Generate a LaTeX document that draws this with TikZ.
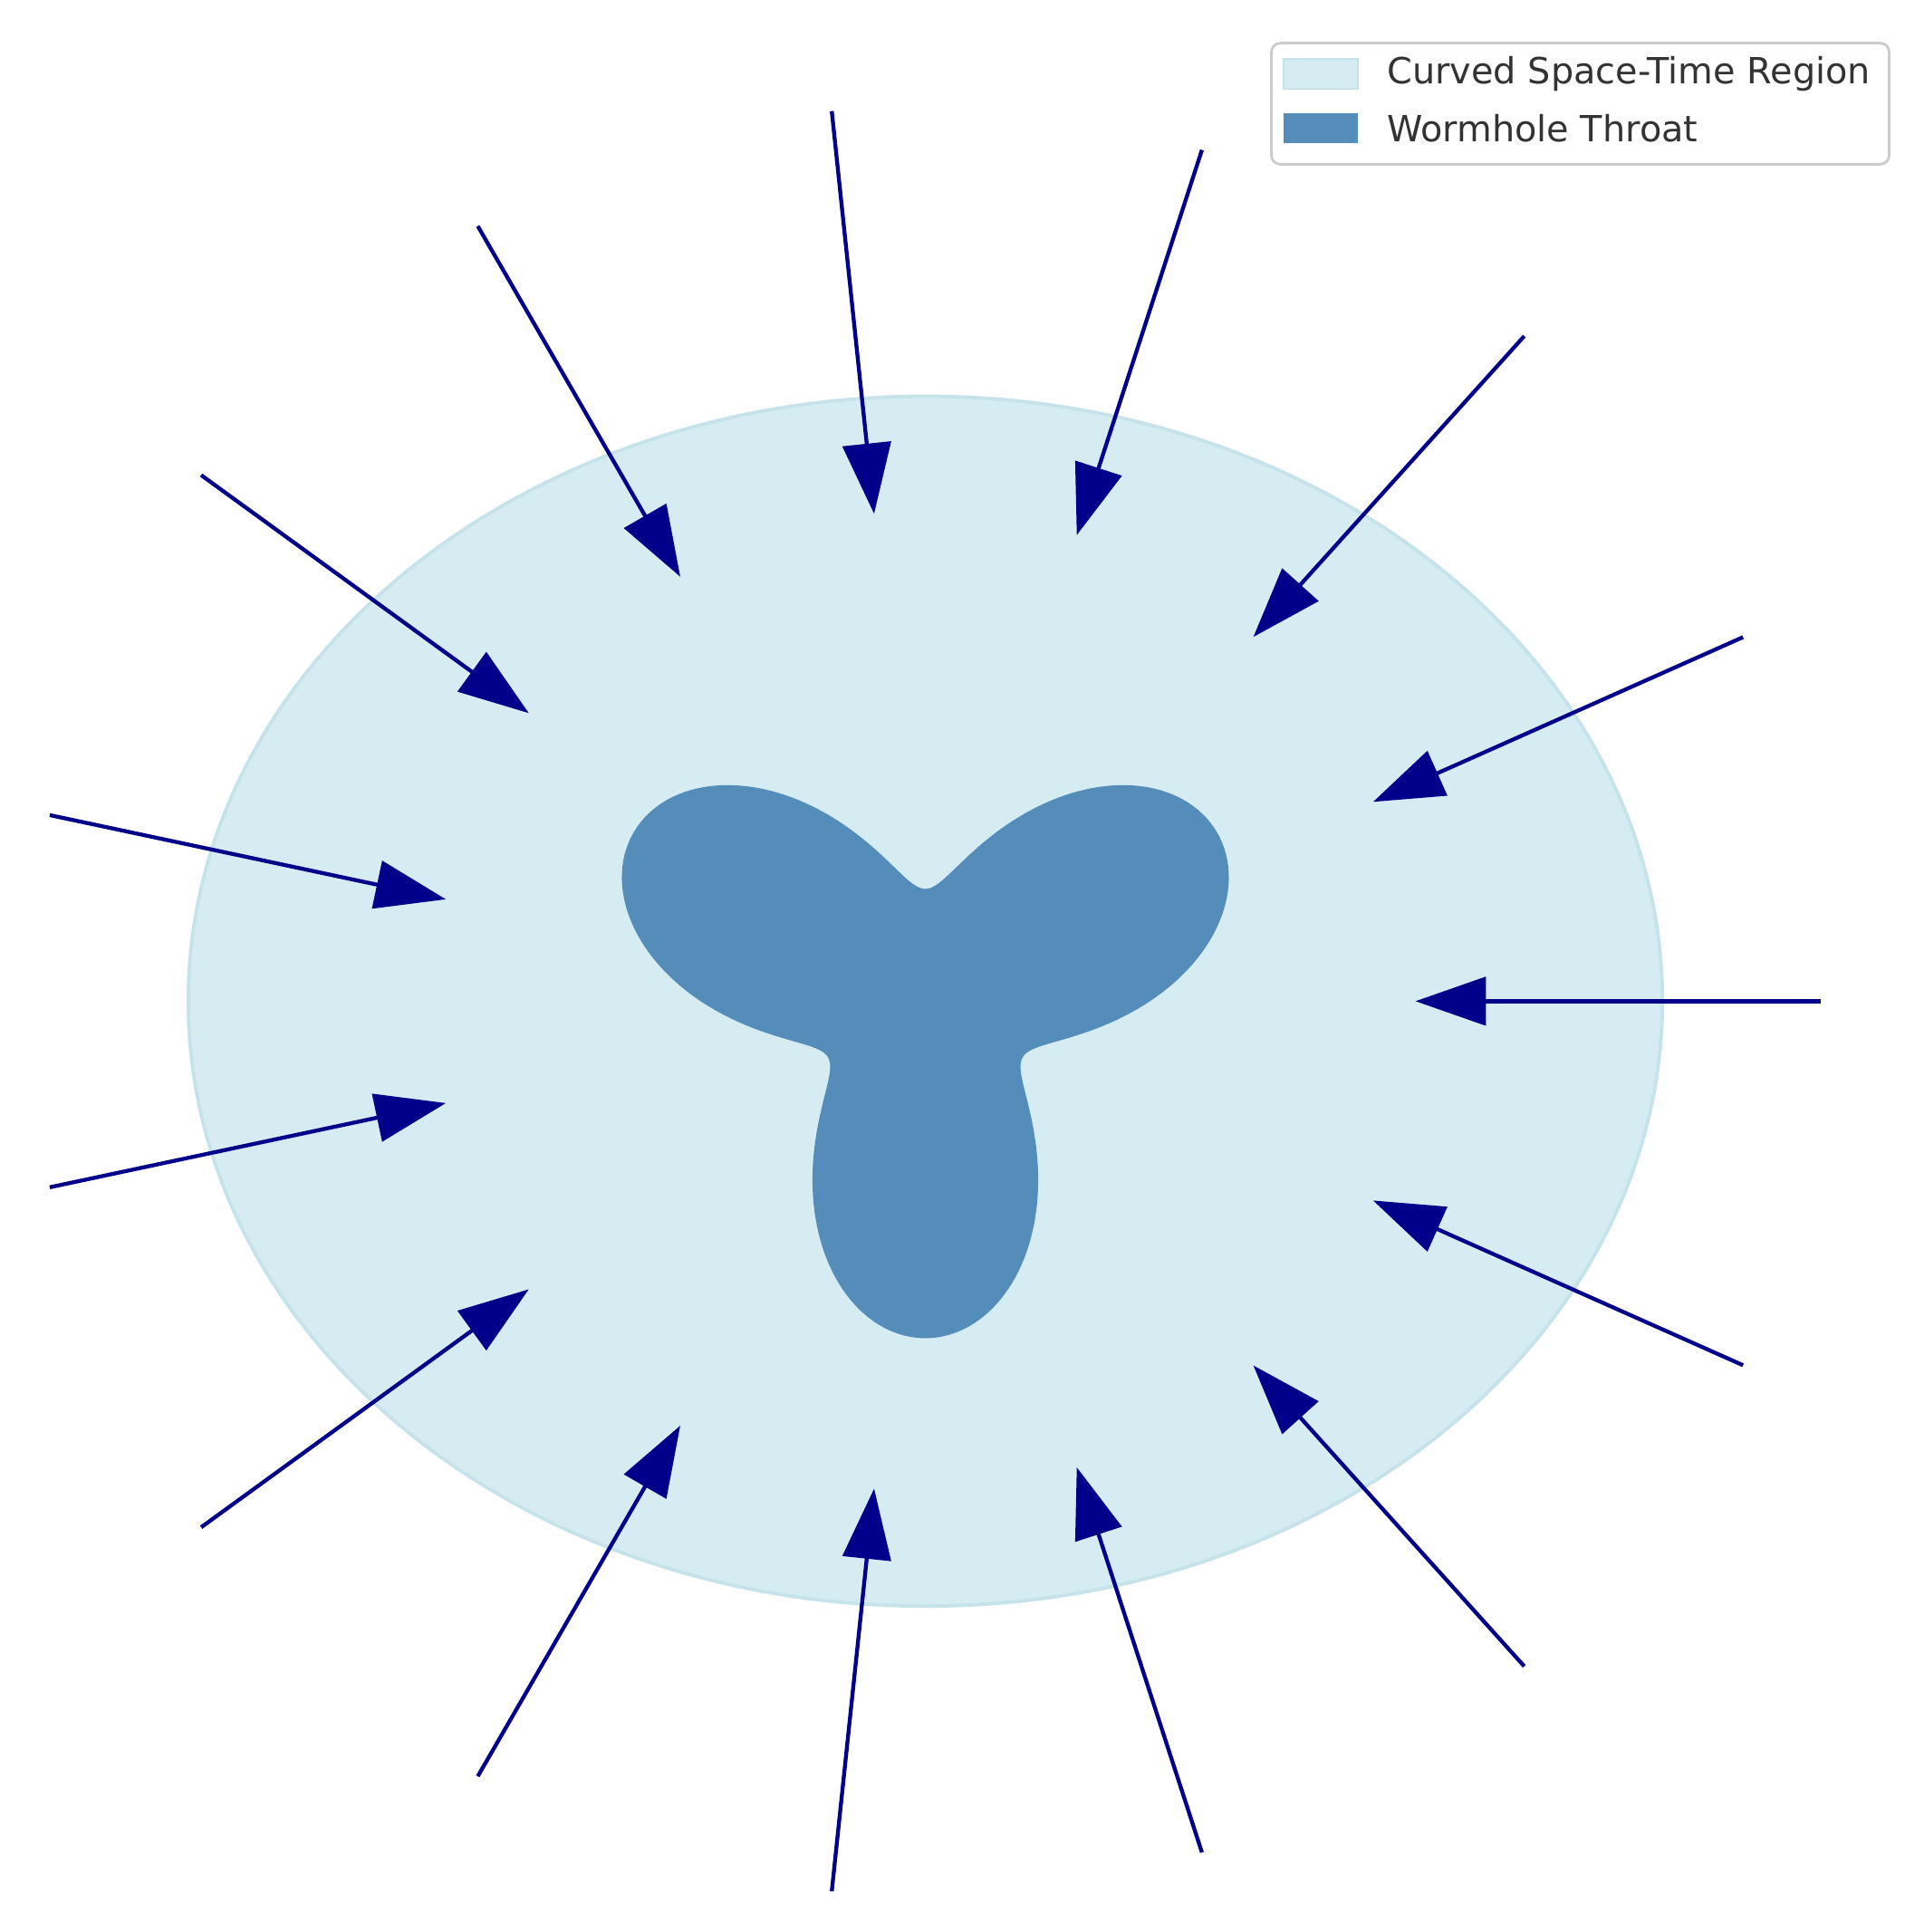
\documentclass[tikz,border=0pt]{standalone}
\usepackage{fontspec}
\setmainfont{DejaVu Sans}
\usetikzlibrary{arrows.meta}
\definecolor{regionblue}{RGB}{214,236,243}
\definecolor{regionedge}{RGB}{198,226,235}
\definecolor{throatblue}{RGB}{84,140,186}
\definecolor{flowblue}{RGB}{0,0,139}
\definecolor{legendgray}{RGB}{204,204,204}

\begin{document}
\begin{tikzpicture}
  [x=0.01cm,y=0.01cm,
   flow/.style={draw=flowblue,line width=0.9pt,-{Triangle[length=0.57cm,width=0.39cm]}},
   swatch/.style={minimum width=0.6cm,minimum height=0.24cm,inner sep=0pt},
   entry/.style={anchor=west,inner sep=0pt,text=black!80,font=\fontsize{8.3}{10}\selectfont}]
  \useasboundingbox (-749.5,-754) rectangle (793.5,811);
  \coordinate (c) at (0,0);
  % curved region and throat
  \filldraw[fill=regionblue,draw=regionedge,line width=0.8pt] (c) ellipse [x radius=597,y radius=490];
  \fill[throatblue] plot[domain=0:359,samples=360]
    ({182*(1+0.5*sin(3*\x))*cos(\x)},{182*(1+0.5*sin(3*\x))*sin(\x)}) -- cycle;
  % inward arrows
  \foreach \a [count=\i] in {0,24,...,336} {
    \coordinate (t\i) at (\a:725);
    \coordinate (h\i) at (\a:397);
    \draw[flow] (t\i) -- (h\i);
  }
  % legend
  \node[draw=legendgray,fill=white,fill opacity=0.8,rounded corners=2pt,line width=0.6pt,
        minimum width=5cm,minimum height=0.98cm,inner sep=0pt] (legend) at (530.5,727) {};
  \node[swatch,fill=regionblue,draw=regionedge] (sw1) at (320.5,751) {};
  \node[swatch,fill=throatblue] (sw2) at (320.5,707) {};
  \node[entry] (lab1) at (373.5,751) {Curved Space-Time Region};
  \node[entry] (lab2) at (373.5,707) {Wormhole Throat};
\end{tikzpicture}
\end{document}
